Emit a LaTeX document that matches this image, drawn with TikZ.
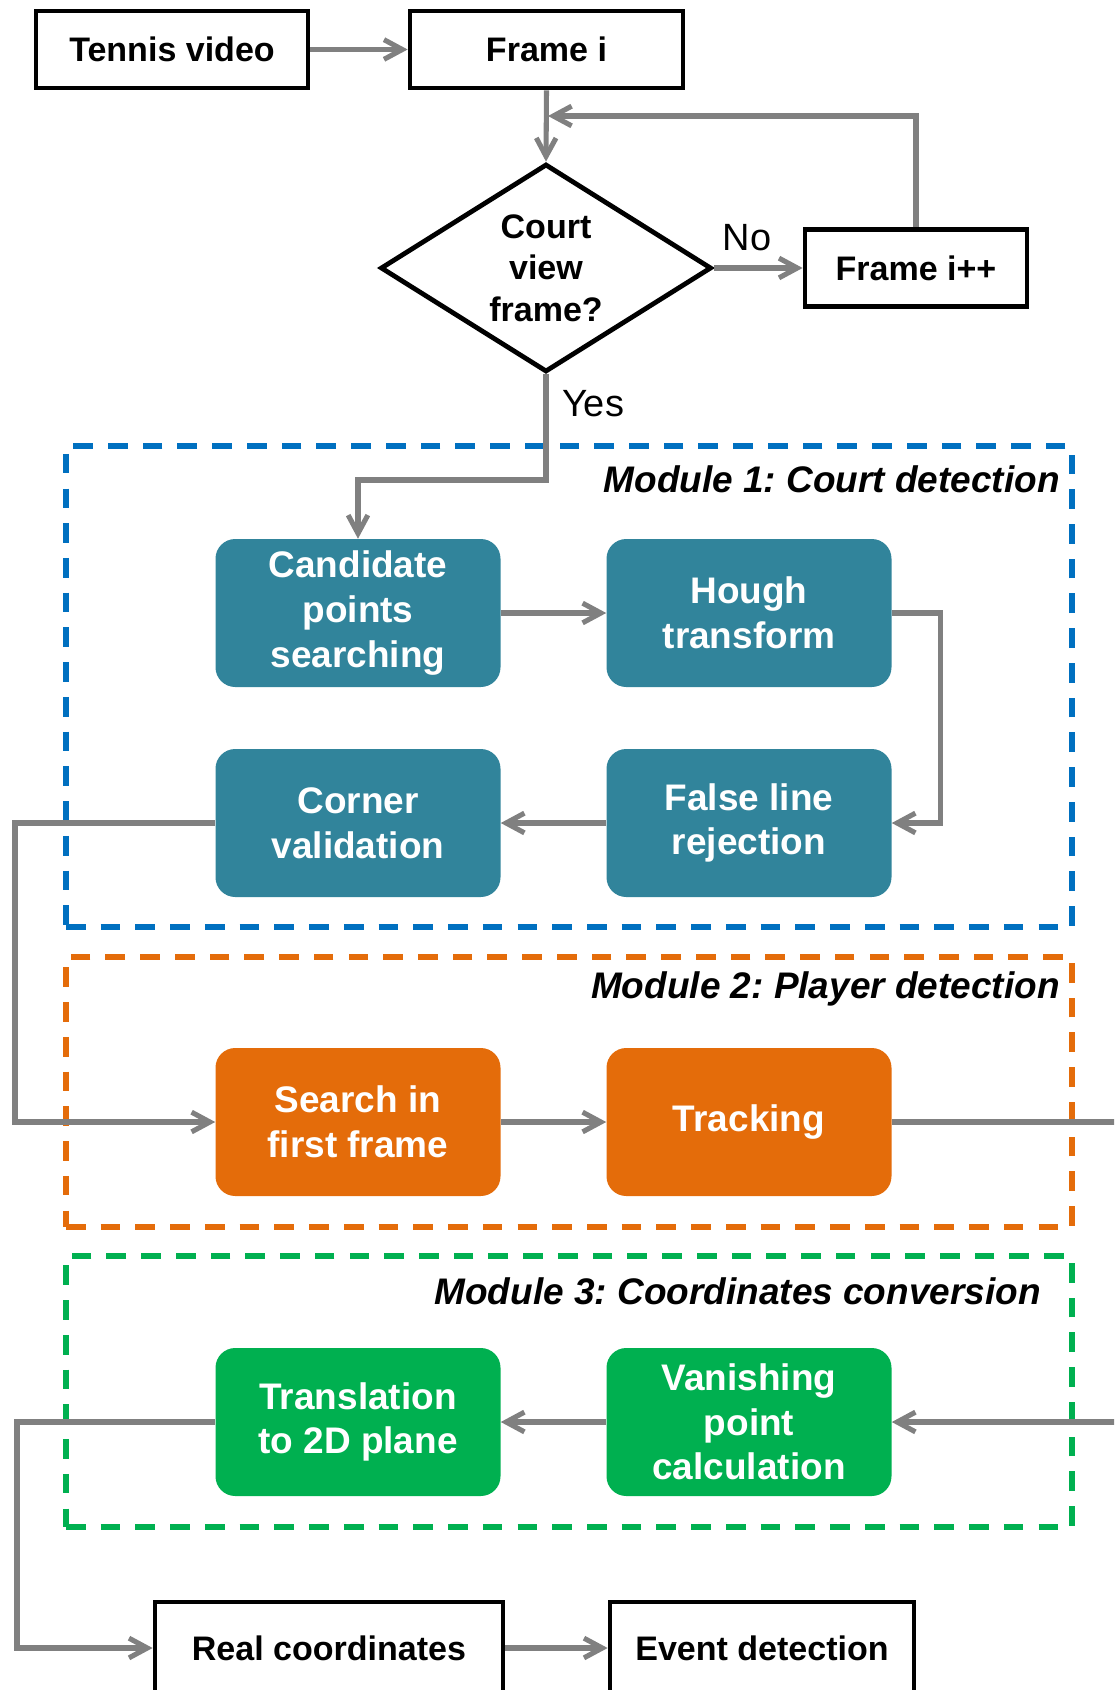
\documentclass[tikz,border=0pt]{standalone}
\usepackage{fontspec}
\setmainfont{Liberation Sans}
\usetikzlibrary{arrows.meta,shapes.geometric}
\definecolor{tealbox}{HTML}{31849B}
\definecolor{orngbox}{HTML}{E46C0A}
\definecolor{grnbox}{HTML}{00B050}
\definecolor{bluline}{HTML}{0070C0}
\definecolor{gryline}{HTML}{808080}
\frenchspacing
\begin{document}
\begin{tikzpicture}[x=0.025cm,y=-0.025cm,
  blackbox/.style={draw=black, line width=3.4pt, fill=white, minimum height=77*0.025cm, inner sep=0pt,
    font=\fontsize{24.2}{30}\selectfont\bfseries},
  colbox/.style={fill=#1, rounded corners=14pt, minimum width=285*0.025cm, minimum height=148*0.025cm,
    align=center, text=white, inner sep=0pt, font=\fontsize{26.3}{31.8}\selectfont\bfseries},
  conn/.style={draw=gryline, line width=3.6pt, -{Straight Barb[length=13pt,width=14pt]}},
  plainline/.style={draw=gryline, line width=3.6pt},
  modbox/.style={draw=#1, line width=3.6pt, dash pattern=on 14pt off 10.7pt, minimum width=1006*0.025cm, inner sep=0pt},
  modlabel/.style={anchor=east, inner sep=0pt, font=\fontsize{26.3}{30}\selectfont\bfseries\itshape},
  yesno/.style={inner sep=0pt, font=\fontsize{27}{30}\selectfont}
]
\useasboundingbox (0,0) rectangle (1114,1690);
\clip (0,0) rectangle (1114,1690);

% module frames
\node[modbox=bluline, minimum height=481*0.025cm] (m1) at (569,686.5) {};
\node[modbox=orngbox, minimum height=270*0.025cm] (m2) at (569,1092) {};
\node[modbox=grnbox, minimum height=271*0.025cm] (m3) at (569,1391.5) {};
\node[modlabel] (m1l) at (1060,479.5) {Module 1: Court detection};
\node[modlabel] (m2l) at (1060,989) {Module 2: Player detection};
\node[modlabel] (m3l) at (1041,1291) {Module 3: Coordinates conversion};

% top boxes
\node[blackbox, minimum width=272*0.025cm] (tv) at (172,49.5) {Tennis video};
\node[blackbox, minimum width=273*0.025cm] (fi) at (546.5,49.5) {Frame i};
\node[draw=black, line width=3.4pt, fill=white, shape=diamond, aspect=1.59, minimum width=331*0.025cm,
  minimum height=208*0.025cm, inner sep=0pt, align=center, font=\fontsize{24.2}{29.5}\selectfont\bfseries]
  (dia) at (546,268) {Court\\view\\frame?};
\node[blackbox, minimum width=222*0.025cm] (fipp) at (916,268) {Frame i++};
\node[yesno] (no) at (747,238) {No};
\node[yesno] (yes) at (593,404) {Yes};

% colored boxes
\node[colbox=tealbox] (cand) at (358,613) {Candidate\\points\\searching};
\node[colbox=tealbox] (hough) at (749,613) {Hough\\transform};
\node[colbox=tealbox] (corner) at (358,823) {Corner\\validation};
\node[colbox=tealbox] (false) at (749,823) {False line\\rejection};
\node[colbox=orngbox] (search) at (358,1122) {Search in\\first frame};
\node[colbox=orngbox] (track) at (749,1122) {Tracking};
\node[colbox=grnbox] (trans) at (358,1422) {Translation\\to 2D plane};
\node[colbox=grnbox] (van) at (749,1422) {Vanishing\\point\\calculation};

% bottom boxes
\node[blackbox, minimum width=348*0.025cm, minimum height=92*0.025cm] (real) at (329,1648) {Real coordinates};
\node[blackbox, minimum width=304*0.025cm, minimum height=92*0.025cm] (event) at (762,1648) {Event detection};

% bend coordinates
\coordinate (loopend) at (548,116);
\coordinate (ybend) at (546,480);
\coordinate (hbend) at (940.6,613);
\coordinate (cbend) at (15,823);
\coordinate (trackout) at (1125,1122);
\coordinate (vanin) at (1125,1422);
\coordinate (tbend) at (17,1422);

% connectors
\draw[conn] (tv.east) -- (fi.west);
\draw[conn] (fi.south) -- (dia.north);
\draw[conn] (dia.east) -- (fipp.west);
\draw[conn] (fipp.north) |- (loopend);
\draw[conn] (dia.south) -- (ybend) -| (cand.north);
\draw[conn] (cand.east) -- (hough.west);
\draw[conn] (hough.east) -- (hbend) |- (false.east);
\draw[conn] (false.west) -- (corner.east);
\draw[conn] (corner.west) -- (cbend) |- (search.west);
\draw[conn] (search.east) -- (track.west);
\draw[plainline] (track.east) -- (trackout);
\draw[conn] (vanin) -- (van.east);
\draw[conn] (van.west) -- (trans.east);
\draw[conn] (trans.west) -- (tbend) |- (real.west);
\draw[conn] (real.east) -- (event.west);
\end{tikzpicture}
\end{document}
